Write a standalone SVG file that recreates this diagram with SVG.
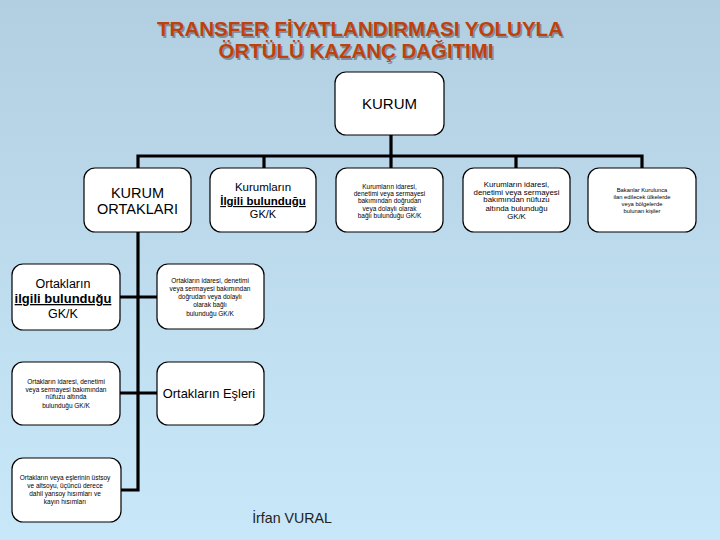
<svg xmlns="http://www.w3.org/2000/svg" width="720" height="540" viewBox="0 0 720 540">
<defs>
<linearGradient id="bg" x1="0" y1="0" x2="0" y2="1">
<stop offset="0" stop-color="#b2cfe1"/>
<stop offset="1" stop-color="#c8e8fa"/>
</linearGradient>
<style>
.box{fill:#fff;stroke:#000;stroke-width:1.2}
.ln{fill:none;stroke:#000;stroke-width:3.2}
text{font-family:"Liberation Sans",Arial,sans-serif;fill:#000;text-anchor:middle}
.t{font-weight:bold;fill:#c0400c;font-size:19.5px}
.ts{font-weight:bold;fill:#7f8f9c;font-size:19.5px}
.s{font-size:6.5px}
.m{font-size:12px}
.b{font-weight:bold;text-decoration:underline}
</style>
</defs>
<rect width="720" height="540" fill="url(#bg)"/>
<g id="title">
<text class="ts" x="361.5" y="37.5" textLength="406" lengthAdjust="spacingAndGlyphs">TRANSFER FİYATLANDIRMASI YOLUYLA</text>
<text class="ts" x="357.5" y="59.5" textLength="275" lengthAdjust="spacingAndGlyphs">ÖRTÜLÜ KAZANÇ DAĞITIMI</text>
<text class="t" x="360" y="36" textLength="406" lengthAdjust="spacingAndGlyphs">TRANSFER FİYATLANDIRMASI YOLUYLA</text>
<text class="t" x="356" y="58" textLength="275" lengthAdjust="spacingAndGlyphs">ÖRTÜLÜ KAZANÇ DAĞITIMI</text>
</g>
<g id="connectors">
<path class="ln" d="M391 135V156M138 168V156H642V168M264 156V168M391 156V168M516 156V168"/>
<path class="ln" d="M138 232V490H121M120 297H157M120 393H157"/>
</g>
<g id="kurum">
<rect class="box" x="335" y="72" width="109" height="63" rx="11"/>
<text x="389.5" y="109" style="font-size:15px">KURUM</text>
</g>
<g id="kurum-ortaklari">
<rect class="box" x="84" y="168" width="107" height="64" rx="11"/>
<text x="137.5" y="198" style="font-size:14.5px">KURUM</text>
<text x="137.5" y="214" style="font-size:14.5px">ORTAKLARI</text>
</g>
<g id="kurumlarin-ilgili">
<rect class="box" x="210" y="168" width="106" height="64" rx="11"/>
<text class="m" x="263" y="191" style="font-size:11.5px">Kurumların</text>
<text class="b" x="263" y="205" style="font-size:11.5px">İlgili bulunduğu</text>
<text class="m" x="263" y="218" style="font-size:11px">GK/K</text>
</g>
<g id="kurumlarin-dogrudan">
<rect class="box" x="336" y="168" width="107" height="64" rx="11"/>
<text class="s" x="389.5" y="189">Kurumların idaresi,</text>
<text class="s" x="389.5" y="196.2">denetimi veya sermayesi</text>
<text class="s" x="389.5" y="203.4">bakımından doğrudan</text>
<text class="s" x="389.5" y="210.6">veya dolaylı olarak</text>
<text class="s" x="389.5" y="217.8">bağlı bulunduğu GK/K</text>
</g>
<g id="kurumlarin-nufuzu">
<rect class="box" x="463" y="168" width="107" height="64" rx="11"/>
<text x="516.5" y="187" style="font-size:7.8px">Kurumların idaresi,</text>
<text x="516.5" y="194.5" style="font-size:7.8px">denetimi veya sermayesi</text>
<text x="516.5" y="202" style="font-size:7.8px">bakımından nüfuzu</text>
<text x="516.5" y="210.5" style="font-size:7.8px">altında bulunduğu</text>
<text x="516.5" y="218.5" style="font-size:7.8px">GK/K</text>
</g>
<g id="bakanlar">
<rect class="box" x="588" y="168" width="108" height="64" rx="11"/>
<text x="642" y="191.5" style="font-size:5.8px">Bakanlar Kurulunca</text>
<text x="642" y="198.5" style="font-size:5.8px">ilan edilecek ülkelerde</text>
<text x="642" y="205.5" style="font-size:5.8px">veya bölgelerde</text>
<text x="642" y="212.5" style="font-size:5.8px">bulunan kişiler</text>
</g>
<g id="ortaklarin-ilgili">
<rect class="box" x="12" y="264" width="108" height="66" rx="11"/>
<text x="63" y="288" style="font-size:12.5px">Ortakların</text>
<text class="b" x="63" y="303" style="font-size:13px">ilgili bulunduğu</text>
<text x="63" y="318" style="font-size:12.5px">GK/K</text>
</g>
<g id="ortaklarin-dogrudan">
<rect class="box" x="157" y="264" width="107" height="65" rx="11"/>
<text class="s" x="210" y="283">Ortakların idaresi, denetimi</text>
<text class="s" x="210" y="290.5">veya sermayesi bakımından</text>
<text class="s" x="210" y="299">doğrudan veya dolaylı</text>
<text class="s" x="210" y="307">olarak bağlı</text>
<text class="s" x="210" y="316">bulunduğu GK/K</text>
</g>
<g id="ortaklarin-nufuzu">
<rect class="box" x="12" y="362" width="108" height="63" rx="11"/>
<text class="s" x="66" y="384">Ortakların idaresi, denetimi</text>
<text class="s" x="66" y="391.5">veya sermayesi bakımından</text>
<text class="s" x="66" y="399">nüfuzu altında</text>
<text class="s" x="66" y="408">bulunduğu GK/K</text>
</g>
<g id="ortaklarin-esleri">
<rect class="box" x="157" y="362" width="107" height="63" rx="11"/>
<text x="209" y="398" style="font-size:12.9px">Ortakların Eşleri</text>
</g>
<g id="hisimlar">
<rect class="box" x="12" y="458" width="109" height="64" rx="11"/>
<text class="s" x="65" y="480">Ortakların veya eşlerinin üstsoy</text>
<text class="s" x="65" y="487.5">ve altsoyu, üçüncü derece</text>
<text class="s" x="65" y="495.5">dahil yansoy hısımları ve</text>
<text class="s" x="65" y="504">kayın hısımları</text>
</g>
<text x="292" y="523" style="font-size:14.2px;fill:#222">İrfan VURAL</text>
</svg>
